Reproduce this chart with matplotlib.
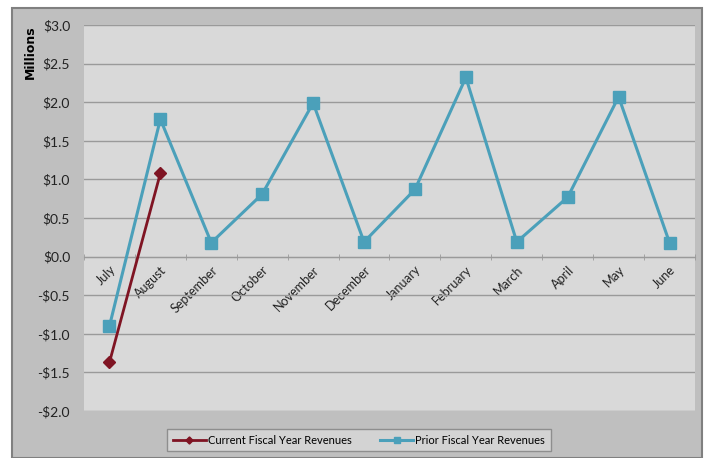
import matplotlib
matplotlib.use("Agg")
import matplotlib.pyplot as plt
from matplotlib.patches import Rectangle
from matplotlib.ticker import FixedLocator, FuncFormatter

months = ["July", "August", "September", "October", "November", "December",
          "January", "February", "March", "April", "May", "June"]
prior = [-0.90, 1.78, 0.18, 0.81, 1.99, 0.19, 0.87, 2.32, 0.19, 0.77, 2.07, 0.18]
current = [-1.37, 1.08]

plt.rcParams['font.family'] = ['Lato', 'DejaVu Sans']

W, H = 713, 458
fig = plt.figure(figsize=(W / 100, H / 100), dpi=100)
fig.patch.set_facecolor('white')
# outer chart frame
fig.patches.append(Rectangle((12 / W, 0), 690 / W, (H - 8) / H, transform=fig.transFigure,
                             facecolor='#BFBFBF', edgecolor='#808080', linewidth=1.5, zorder=-10))

ax = fig.add_axes([84 / W, (H - 411) / H, 611 / W, 386 / H])
ax.set_zorder(5)
ax.set_facecolor('#D9D9D9')
x = list(range(len(months)))
ax.set_xlim(-0.5, len(months) - 0.5)
ax.set_ylim(-2.0, 3.0)
ax.set_yticks([-2.0, -1.5, -1.0, -0.5, 0.0, 0.5, 1.0, 1.5, 2.0, 2.5, 3.0])
ax.yaxis.set_major_formatter(FuncFormatter(lambda v, p: ("-$%.1f" % abs(v)) if v < 0 else ("$%.1f" % v)))
ax.grid(axis='y', color='#9A9A9A', linewidth=1.0)
ax.set_axisbelow(True)
for s in ['top', 'right', 'left']:
    ax.spines[s].set_visible(False)
ax.spines['bottom'].set_position(('data', 0))
ax.spines['bottom'].set_color('#9A9A9A')
ax.tick_params(axis='y', length=0, labelsize=10, colors='#222222', pad=10)
ax.set_xticks(x)
ax.set_xticklabels(months, rotation=45, ha='right', rotation_mode='anchor', fontsize=9)
ax.tick_params(axis='x', which='major', length=0, pad=5, colors='#222222')
ax.xaxis.set_minor_locator(FixedLocator([i - 0.5 for i in range(len(months) + 1)]))
ax.tick_params(axis='x', which='minor', length=5, direction='inout', color='#9A9A9A')
ax.set_ylabel('Millions', fontsize=9, fontweight='bold', family=['DejaVu Sans'])
ax.yaxis.set_label_coords(-0.077, 0.93)

l1, = ax.plot(x[:len(current)], current, color='#7F1423', linewidth=2.0, marker='D',
              markersize=6, label='Current Fiscal Year Revenues', zorder=4)
l2, = ax.plot(x, prior, color='#4BA0BA', linewidth=2.2, marker='s', markersize=8,
              label='Prior Fiscal Year Revenues', zorder=3)

leg = fig.legend(handles=[l1, l2], loc='center', bbox_to_anchor=(359 / W, (H - 440) / H),
                 ncol=2, frameon=True, fontsize=8, fancybox=False, handlelength=3.0,
                 handletextpad=0.2, columnspacing=2.5, borderpad=0.5, markerscale=0.6,
                 borderaxespad=0)
leg.get_frame().set_facecolor('#D9D9D9')
leg.get_frame().set_edgecolor('#808080')

fig.savefig('out.png', dpi=100, facecolor=fig.get_facecolor())
